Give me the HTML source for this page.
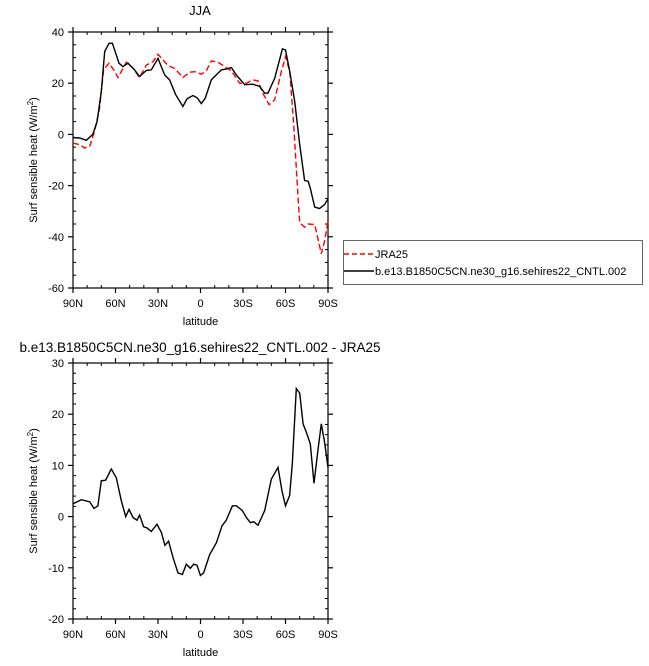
<!DOCTYPE html>
<html><head><meta charset="utf-8"><style>
body{margin:0;background:#fff;}
svg{display:block;font-family:"Liberation Sans",sans-serif;}
</style></head><body>
<svg id="svg" width="649" height="666"></svg>
<script>
const latTicks=["90N","60N","30N","0","30S","60S","90S"];
const topYTicks=[40,20,0,-20,-40,-60];
const botYTicks=[30,20,10,0,-10,-20];
// x in degrees from 90N
const ctlX=[0,4.7,9.4,14,17,20,22.4,25.4,27.8,32.5,35.3,38.8,43.5,47,51.8,55.3,60,64.7,68.2,72.5,77.6,80.5,84.7,87.8,90.6,93.4,97.6,104.7,108.2,111.8,115.3,121.2,127,131.8,135.3,137.6,142.4,147.8,150,153,156.5,160,163.5,166,167.5,170.6,174,177.6,180];
const ctlY=[-1.2,-1.4,-2.3,0,5,16.8,32.4,35.6,35.6,27.8,26.5,27.8,25.2,22.6,25,25.2,29.7,23.2,21.3,15.5,10.9,13.9,15.2,14.2,12,14.2,21.3,25.2,25.6,26.1,23.2,19.4,19.6,18.7,16.1,16.1,21.9,33.4,33,24.5,12.9,-4,-18,-18.3,-21,-28.4,-29,-27.4,-25.2];
const jraX=[0,4.7,8.2,11.8,15.3,18.8,21.6,25.4,28.7,31.8,37.6,42.4,47,51.8,56.5,60,63.5,67,71.8,77.6,82.4,85.9,90.6,94,97.6,102.4,107,111.8,117.6,122.4,127,130.6,134,138.4,142.4,147,150,153,155.8,159,160,163.5,166,170.6,175.3,177.6,180];
const jraY=[-3.4,-4,-5.3,-4.7,1.4,10.3,25.2,27.8,25.2,22.2,28.2,25.8,22.2,27.1,28.4,31.3,29.1,26.9,25.8,22.2,24.3,24.5,23.5,24.8,28.7,28.2,26.5,24.8,20,20,21.3,20.9,16.1,11.6,13.5,24.5,30.4,24.5,3.8,-26.1,-34.5,-36.2,-35,-35.2,-46.6,-41.7,-33.9];
const difX=[0,5.9,11.8,14.8,17.6,20,23,27,30.6,34.1,37.2,39.5,42.4,45.2,47,49.9,52.2,55.3,59.3,62.4,64.9,67.5,70.6,74.1,77.2,80,82.8,85.2,87.5,89.9,92.2,96.5,101.2,105.2,108.2,112.5,115.3,119.5,122.4,125.2,127.5,130.6,135.3,140,144.7,147.5,150,152.9,154.8,157.6,160,162.4,164.7,167.5,170.1,172.9,175.3,177.6,180];
const difY=[2.5,3.3,2.9,1.6,2.1,7,7.1,9.3,7.6,3.1,0,1.4,-0.2,-0.7,0.3,-2,-2.2,-2.9,-1.5,-3.1,-5.6,-4.8,-8,-11,-11.3,-9.3,-10.1,-9.3,-9.5,-11.5,-11,-7.4,-5.1,-1.8,-0.7,2.1,2.1,1.2,-0.2,-1.2,-1,-1.7,1.2,7.3,9.6,5,2.1,4.1,10.3,25,24.1,18.1,16.5,14.2,6.5,12.9,18.1,14.5,9.6];

const svg=document.getElementById('svg');
const NS="http://www.w3.org/2000/svg";
function mk(tag,at,parent){const e=document.createElementNS(NS,tag);for(const k in at)e.setAttribute(k,at[k]);(parent||svg).appendChild(e);return e;}
const L=73,R=328;
const xs=d=>L+d*(R-L)/180;

function panel(name,top,bot,ymax,ymin,yTicks,minorStep){
  const g=mk('g',{});
  
  
  const ys=v=>top+(ymax-v)*(bot-top)/(ymax-ymin);
  const r=mk('rect',{x:L,y:top,width:R-L,height:bot-top,fill:'none',stroke:'#000','stroke-width':1.2},g);
  
  
  for(let d=0;d<=180;d+=10){
    const major=d%30===0, x=xs(d);
    if(major){
      mk('line',{x1:x,x2:x,y1:bot,y2:bot+5,stroke:'#000','stroke-width':1.2},g);
      mk('line',{x1:x,x2:x,y1:top-5,y2:top,stroke:'#000','stroke-width':1.2},g);
    } else {
      mk('line',{x1:x,x2:x,y1:bot-3,y2:bot,stroke:'#000','stroke-width':1},g);
      mk('line',{x1:x,x2:x,y1:top,y2:top+3,stroke:'#000','stroke-width':1},g);
    }
  }
  latTicks.forEach((t,i)=>{
    const e=mk('text',{x:xs(i*30),y:bot+19,'font-size':11,'text-anchor':'middle'},g);e.textContent=t;
    
    
  });
  for(let v=ymin;v<=ymax+1e-9;v+=minorStep){
    const major=yTicks.includes(Math.round(v)), y=ys(v);
    if(major){
      mk('line',{x1:L-5,x2:L,y1:y,y2:y,stroke:'#000','stroke-width':1.2},g);
      mk('line',{x1:R,x2:R+5,y1:y,y2:y,stroke:'#000','stroke-width':1.2},g);
    } else {
      mk('line',{x1:L,x2:L+3,y1:y,y2:y,stroke:'#000','stroke-width':1},g);
      mk('line',{x1:R-3,x2:R,y1:y,y2:y,stroke:'#000','stroke-width':1},g);
    }
  }
  yTicks.forEach(v=>{
    const e=mk('text',{x:L-9,y:ys(v)+4,'font-size':11,'text-anchor':'end'},g);e.textContent=v;
    
    
  });
  const xl=mk('text',{x:(L+R)/2,y:bot+37,'font-size':11,'text-anchor':'middle'},g);xl.textContent='latitude';
  
  
  const cy=(top+bot)/2;
  const yl=mk('text',{x:0,y:0,'font-size':11,'text-anchor':'middle',transform:`translate(37,${cy}) rotate(-90)`},g);
  yl.innerHTML='Surf sensible heat (W/m<tspan dy="-4" font-size="8">2</tspan><tspan dy="4">)</tspan>';
  
  
  return {g,ys};
}
function line(p,X,Y,attrs,name){
  const d=X.map((x,i)=>(i?'L':'M')+xs(x).toFixed(1)+','+p.ys(Y[i]).toFixed(1)).join('');
  const e=mk('path',Object.assign({d,fill:'none'},attrs),p.g);
  
  
}
const p1=panel('top-panel',32,288,40,-60,topYTicks,5);
line(p1,jraX,jraY,{stroke:'#f00','stroke-width':1.4,'stroke-dasharray':'6,3'},'jra25-line');
line(p1,ctlX,ctlY,{stroke:'#000','stroke-width':1.4},'cntl-line');
const p2=panel('bottom-panel',363,619,30,-20,botYTicks,2);
line(p2,difX,difY,{stroke:'#000','stroke-width':1.4},'difference-line');

const t1=mk('text',{x:200,y:15,'font-size':13,'text-anchor':'middle'});t1.textContent='JJA';


const t2=mk('text',{x:200,y:352,'font-size':13.5,'text-anchor':'middle'});t2.textContent='b.e13.B1850C5CN.ne30_g16.sehires22_CNTL.002 - JRA25';



const lg=mk('g',{});


mk('rect',{x:343.5,y:240.5,width:299,height:44,fill:'#fff',stroke:'#666','stroke-width':1},lg);
mk('line',{x1:344,x2:374,y1:254,y2:254,stroke:'#f00','stroke-width':1.4,'stroke-dasharray':'5,3'},lg);
const lt1=mk('text',{x:375,y:258,'font-size':11},lg);lt1.textContent='JRA25';


mk('line',{x1:344,x2:374,y1:271,y2:271,stroke:'#000','stroke-width':1.4},lg);
const lt2=mk('text',{x:375,y:275,'font-size':11},lg);lt2.textContent='b.e13.B1850C5CN.ne30_g16.sehires22_CNTL.002';


</script>
</body></html>
